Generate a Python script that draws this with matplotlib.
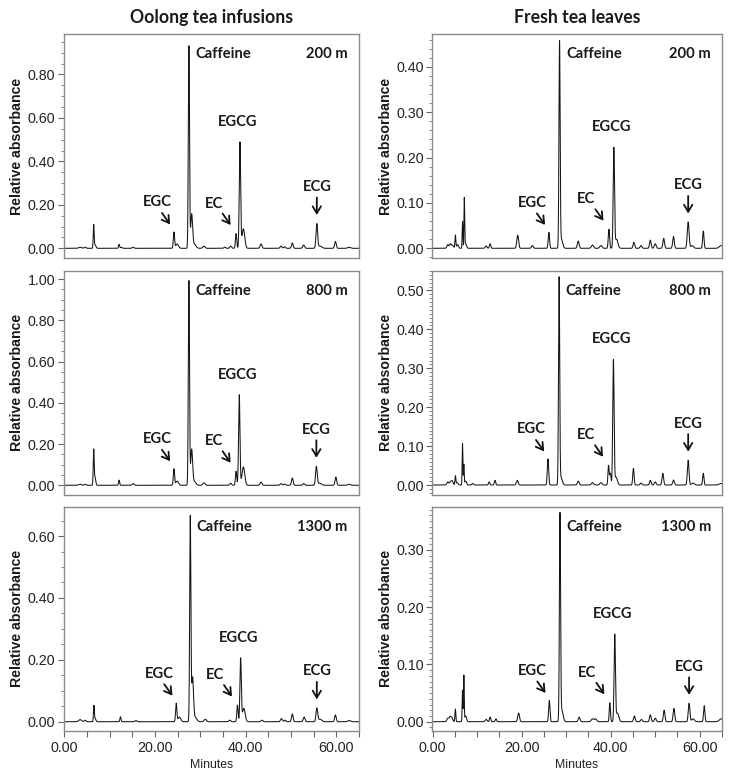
import numpy as np
import matplotlib
matplotlib.use("Agg")
import matplotlib.pyplot as plt
from matplotlib.transforms import offset_copy, blended_transform_factory
from matplotlib.ticker import MultipleLocator, FormatStrFormatter, FixedLocator

# ---------------- data ----------------
# each chromatogram: peak retention times (min), peak heights (abs), peak widths (sigma, min)
oolong_200_rt = [3.5, 4.6, 6.5, 6.8, 12.1, 12.6, 15.2, 24.2, 24.9, 27.5, 28.1, 28.6, 30.8, 35.4, 36.7,
                 37.9, 38.75, 39.5, 43.4, 47.8, 48.6, 50.3, 52.8, 55.7, 56.4, 59.8, 62.8]
oolong_200_h = [0.005, 0.005, 0.105, 0.015, 0.018, 0.004, 0.005, 0.074, 0.02, 0.93, 0.15, 0.02, 0.01, 0.005, 0.01,
                0.068, 0.486, 0.09, 0.02, 0.01, 0.007, 0.025, 0.015, 0.112, 0.01, 0.032, 0.005]
oolong_200_w = [0.3, 0.2, 0.1, 0.2, 0.12, 0.2, 0.2, 0.14, 0.3, 0.13, 0.2, 0.4, 0.25, 0.2, 0.2,
                0.14, 0.15, 0.3, 0.2, 0.2, 0.2, 0.18, 0.2, 0.18, 0.4, 0.18, 0.3]

oolong_800_rt = [3.5, 4.6, 6.5, 6.8, 12.1, 15.2, 24.2, 24.9, 27.5, 28.1, 28.6, 30.8, 36.7,
                 37.9, 38.6, 39.5, 43.4, 47.8, 48.6, 50.3, 52.8, 55.6, 56.3, 59.9, 62.8]
oolong_800_h = [0.005, 0.005, 0.171, 0.04, 0.025, 0.008, 0.079, 0.02, 0.99, 0.167, 0.02, 0.012, 0.01,
                0.068, 0.438, 0.089, 0.015, 0.008, 0.006, 0.035, 0.008, 0.09, 0.01, 0.04, 0.005]
oolong_800_w = [0.3, 0.2, 0.1, 0.15, 0.12, 0.2, 0.14, 0.3, 0.13, 0.2, 0.4, 0.25, 0.2,
                0.14, 0.15, 0.3, 0.2, 0.2, 0.2, 0.18, 0.2, 0.18, 0.4, 0.18, 0.3]

oolong_1300_rt = [3.5, 4.6, 6.55, 6.85, 12.4, 15.8, 24.7, 25.4, 27.8, 28.3, 28.8, 31.1, 36.5,
                  38.2, 38.9, 39.6, 43.6, 47.9, 48.7, 50.3, 52.9, 55.7, 56.4, 59.8, 62.8]
oolong_1300_h = [0.007, 0.005, 0.052, 0.01, 0.016, 0.004, 0.059, 0.015, 0.66, 0.138, 0.015, 0.008, 0.005,
                 0.054, 0.204, 0.043, 0.005, 0.01, 0.005, 0.025, 0.015, 0.043, 0.008, 0.022, 0.004]
oolong_1300_w = [0.3, 0.2, 0.1, 0.15, 0.12, 0.2, 0.14, 0.3, 0.13, 0.2, 0.4, 0.25, 0.2,
                 0.14, 0.15, 0.3, 0.2, 0.2, 0.2, 0.18, 0.2, 0.18, 0.4, 0.18, 0.3]

fresh_200_rt = [3.4, 4.0, 4.5, 5.1, 5.6, 6.7, 7.1, 7.4, 12.0, 12.9, 19.1, 22.4, 26.1, 28.5, 28.9, 32.7,
                35.9, 37.8, 39.6, 40.7, 41.3, 45.2, 46.8, 48.9, 50.0, 51.9, 54.1, 57.4, 58.3, 60.8, 64.8]
fresh_200_h = [0.008, 0.01, 0.006, 0.029, 0.008, 0.059, 0.109, 0.01, 0.005, 0.01, 0.029, 0.006, 0.035, 0.45, 0.02,
               0.016, 0.007, 0.006, 0.042, 0.22, 0.02, 0.013, 0.006, 0.018, 0.01, 0.022, 0.026, 0.058, 0.006,
               0.038, 0.006]
fresh_200_w = [0.2, 0.2, 0.2, 0.1, 0.2, 0.08, 0.08, 0.2, 0.2, 0.15, 0.2, 0.2, 0.15, 0.13, 0.3, 0.2,
               0.25, 0.25, 0.15, 0.15, 0.3, 0.18, 0.2, 0.18, 0.2, 0.18, 0.18, 0.2, 0.3, 0.15, 0.4]

fresh_800_rt = [3.4, 4.0, 4.4, 5.1, 5.5, 6.7, 7.0, 7.4, 9.0, 12.7, 14.0, 19.0, 25.9, 28.4, 28.8, 32.7,
                35.9, 37.8, 39.5, 39.9, 40.6, 41.2, 45.1, 46.8, 48.9, 50.0, 51.7, 54.1, 57.4, 58.5, 60.8, 64.8]
fresh_800_h = [0.008, 0.008, 0.01, 0.023, 0.006, 0.107, 0.052, 0.01, 0.004, 0.008, 0.012, 0.012, 0.067, 0.527,
               0.02, 0.01, 0.006, 0.006, 0.05, 0.03, 0.32, 0.02, 0.043, 0.005, 0.012, 0.008, 0.03, 0.013,
               0.064, 0.005, 0.03, 0.004]
fresh_800_w = [0.2, 0.2, 0.2, 0.1, 0.2, 0.08, 0.08, 0.2, 0.2, 0.15, 0.15, 0.2, 0.15, 0.13, 0.3, 0.2,
               0.25, 0.25, 0.13, 0.15, 0.15, 0.3, 0.15, 0.2, 0.18, 0.2, 0.18, 0.18, 0.18, 0.3, 0.15, 0.4]

fresh_1300_rt = [3.4, 3.9, 4.3, 5.1, 6.7, 7.0, 7.4, 12.0, 12.9, 14.2, 19.3, 26.2, 28.6, 29.0, 32.9,
                 35.9, 36.6, 39.8, 40.9, 41.5, 45.3, 46.9, 48.9, 50.0, 52.0, 54.2, 57.6, 58.5, 61.0, 64.8]
fresh_1300_h = [0.006, 0.008, 0.007, 0.022, 0.055, 0.08, 0.01, 0.004, 0.008, 0.005, 0.015, 0.037, 0.357, 0.02,
                0.008, 0.005, 0.005, 0.033, 0.151, 0.015, 0.01, 0.004, 0.012, 0.006, 0.02, 0.023, 0.032, 0.005,
                0.028, 0.005]
fresh_1300_w = [0.2, 0.2, 0.2, 0.1, 0.08, 0.08, 0.2, 0.2, 0.15, 0.15, 0.2, 0.15, 0.13, 0.3, 0.2,
                0.25, 0.25, 0.13, 0.15, 0.3, 0.18, 0.2, 0.18, 0.2, 0.18, 0.18, 0.18, 0.3, 0.15, 0.4]

# retention times of the labelled compounds in each chromatogram
compounds = ["EGC", "Caffeine", "EC", "EGCG", "ECG"]
oolong_200_marks = [24.2, 27.5, 37.9, 38.75, 55.7]
oolong_800_marks = [24.2, 27.5, 37.9, 38.6, 55.6]
oolong_1300_marks = [24.7, 27.8, 38.2, 38.9, 55.7]
fresh_200_marks = [26.1, 28.5, 39.6, 40.7, 57.4]
fresh_800_marks = [25.9, 28.4, 39.5, 40.6, 57.4]
fresh_1300_marks = [26.2, 28.6, 39.8, 40.9, 57.6]

column_titles = ["Oolong tea infusions", "Fresh tea leaves"]
altitudes = ["200 m", "800 m", "1300 m"]
x_ticks = [0, 20, 40, 60]
x_tick_labels = ["0.00", "20.00", "40.00", "60.00"]

# ---------------- figure ----------------
DPI = 100
fig = plt.figure(figsize=(7.31, 7.79), dpi=DPI)

LAB_FONT = "Lato"
TICK_FONT = "Liberation Sans"

col_left = [0.0869, 0.591]
col_width = [0.4042, 0.3967]
row_bottom = [0.6688, 0.3652, 0.0620]
row_height = 0.2872

panels = [
    (0, 0, oolong_200_rt, oolong_200_h, oolong_200_w, oolong_200_marks, (-0.0446, 0.985), 0.2, 0.05),
    (1, 0, oolong_800_rt, oolong_800_h, oolong_800_w, oolong_800_marks, (-0.0447, 1.040), 0.2, 0.05),
    (2, 0, oolong_1300_rt, oolong_1300_h, oolong_1300_w, oolong_1300_marks, (-0.029, 0.694), 0.2, 0.05),
    (0, 1, fresh_200_rt, fresh_200_h, fresh_200_w, fresh_200_marks, (-0.0214, 0.472), 0.1, 0.02),
    (1, 1, fresh_800_rt, fresh_800_h, fresh_800_w, fresh_800_marks, (-0.0244, 0.5506), 0.1, 0.01),
    (2, 1, fresh_1300_rt, fresh_1300_h, fresh_1300_w, fresh_1300_marks, (-0.0157, 0.3747), 0.1, 0.01),
]

t = np.linspace(0, 65, 6501)
spine_col = "#8a8a8a"
txt_col = "#1a1a1a"
ANN_FS = 10.6
TICK_FS = 10.3

for row, col, rts, hs, ws, marks, ylim, major, minor in panels:
    ax = fig.add_axes([col_left[col], row_bottom[row], col_width[col], row_height])
    y = np.zeros_like(t)
    for rt, h, w in zip(rts, hs, ws):
        y += h * np.exp(-0.5 * ((t - rt) / w) ** 2)
    ax.plot(t, y, color="#151515", lw=0.75)
    ax.set_xlim(-0.15, 65)
    ax.set_ylim(*ylim)

    for s in ax.spines.values():
        s.set_color(spine_col)
        s.set_linewidth(1.0)

    ax.yaxis.set_major_locator(MultipleLocator(major))
    ax.yaxis.set_minor_locator(MultipleLocator(minor))
    ax.yaxis.set_major_formatter(FormatStrFormatter("%.2f"))
    ax.tick_params(axis="y", which="major", length=4.3, width=0.8, color="#666666",
                   pad=1.5, labelsize=TICK_FS, labelcolor="#222222")
    ax.tick_params(axis="y", which="minor", length=2.3, width=0.6, color="#777777")
    for lab in ax.get_yticklabels():
        lab.set_fontfamily(TICK_FONT)

    if row == 2:
        ax.xaxis.set_major_locator(FixedLocator(x_ticks))
        ax.set_xticklabels(x_tick_labels)
        ax.xaxis.set_minor_locator(MultipleLocator(5))
        ax.tick_params(axis="x", which="both", length=4, width=0.8, color="#666666",
                       pad=3.5, labelsize=TICK_FS, labelcolor="#222222")
        for lab in ax.get_xticklabels():
            lab.set_fontfamily(TICK_FONT)
        ax.text(0.5, -0.153, "Minutes", transform=ax.transAxes, ha="center", va="center",
                fontsize=8.8, family=TICK_FONT, color="#222222")
    else:
        ax.set_xticks([])

    ax.text(-0.157, 0.5, "Relative absorbance", transform=ax.transAxes, rotation=90,
            ha="center", va="center", fontsize=10.2, fontweight="bold", family=TICK_FONT, color=txt_col)

    if row == 0:
        ax.set_title(column_titles[col], fontsize=12.7, fontweight="bold", family=LAB_FONT,
                     color=txt_col, pad=8)

    ax.text(0.962, 0.91, altitudes[row], transform=ax.transAxes, ha="right", va="center",
            fontsize=ANN_FS, fontweight="bold", family=LAB_FONT, color=txt_col)

    # apex heights of the labelled compounds
    apex = {}
    for name, rt in zip(compounds, marks):
        sel = np.abs(t - rt) < 0.3
        apex[name] = (rt, y[sel].max())

    def off(dx, dy):
        return offset_copy(ax.transData, fig=fig, x=dx, y=dy, units="dots")

    lab_kw = dict(fontsize=ANN_FS, fontweight="bold", family=LAB_FONT, color=txt_col,
                  ha="center", va="center")
    arrow_kw = dict(arrowstyle="->,head_length=0.5,head_width=0.3", lw=1.3, color="#111111",
                    shrinkA=0, shrinkB=0)

    # Caffeine: to the right of the apex, near the top of the axes
    rt_c, _ = apex["Caffeine"]
    btr = blended_transform_factory(ax.transData, ax.transAxes)
    cx = offset_copy(btr, fig=fig, x=6.5, y=0, units="dots")
    ax.text(rt_c, 0.91, "Caffeine", transform=cx, fontsize=ANN_FS, fontweight="bold",
            family=LAB_FONT, color=txt_col, ha="left", va="center")

    # EGCG: label above apex
    rt_g, h_g = apex["EGCG"]
    ax.text(rt_g, h_g, "EGCG", transform=off(-2, 20), **lab_kw)

    # EGC / EC / ECG: label with arrow
    for name, lab_off, tail, tip in [
        ("EGC", (-16.5, 29.5), (-12, 19), (-3.8, 7.5)),
        ("EC", (-22.5, 30), (-13.5, 20), (-5.5, 8.5)),
        ("ECG", (0, 36.5), (0, 26), (0, 8.5)),
    ]:
        rt, h = apex[name]
        ax.text(rt, h, name, transform=off(*lab_off), **lab_kw)
        ax.annotate("", xy=(rt, h), xycoords=off(*tip),
                    xytext=(rt, h), textcoords=off(*tail), arrowprops=arrow_kw)

fig.savefig("out.png", dpi=DPI)
